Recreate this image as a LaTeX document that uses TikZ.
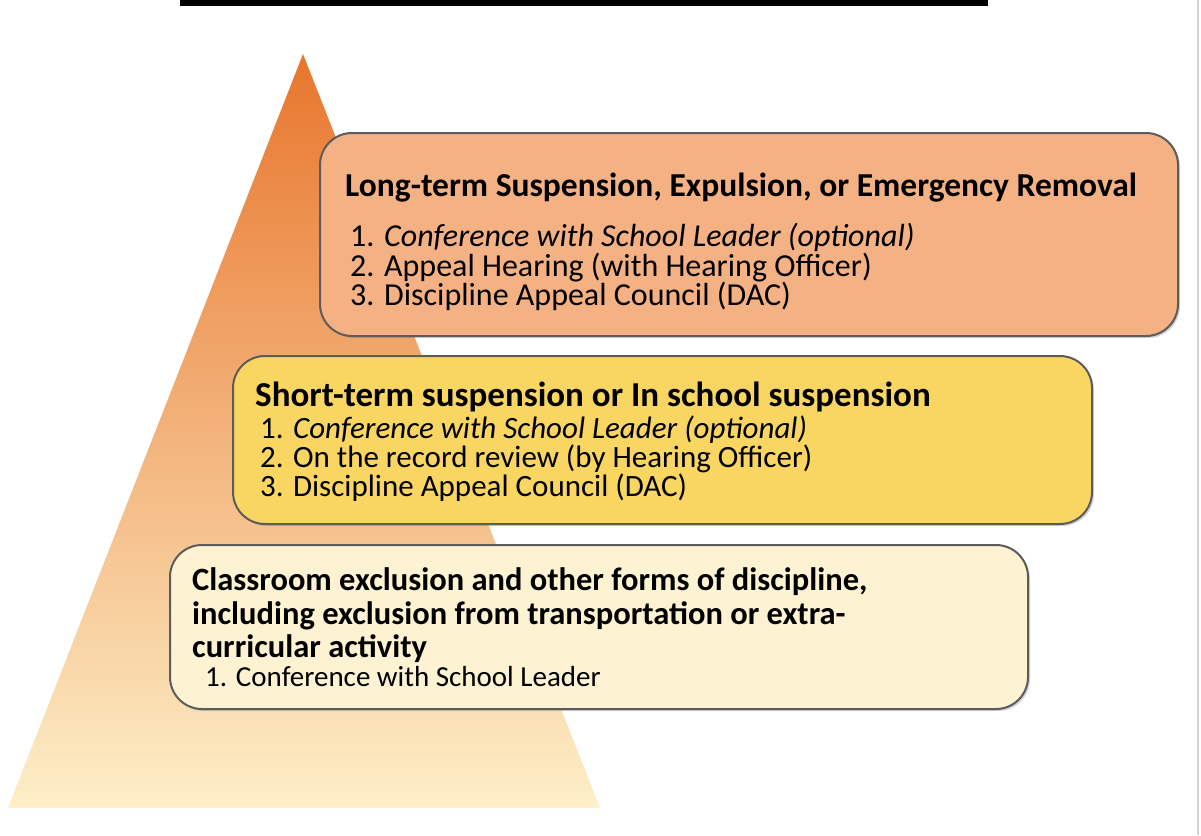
\documentclass[tikz,border=0pt]{standalone}
\usepackage{fontspec}
\setmainfont{Carlito}
\usetikzlibrary{shadows}
\definecolor{boxA}{RGB}{244,177,131}
\definecolor{boxB}{RGB}{249,214,98}
\definecolor{boxC}{RGB}{253,242,209}
\definecolor{edge}{RGB}{92,92,92}
\definecolor{triTop}{RGB}{232,118,45}
\definecolor{triMid}{RGB}{245,188,140}
\definecolor{triBot}{RGB}{253,239,200}
\begin{document}
\begin{tikzpicture}[x=1pt,y=-1pt,
  panel/.style={draw=edge, line width=2pt, rounded corners=32pt, inner sep=0pt,
    drop shadow={opacity=0.35, shadow xshift=2pt, shadow yshift=-2pt}},
  ttlA/.style={anchor=base west, inner sep=0pt, font=\fontsize{33.5}{40}\selectfont\bfseries},
  ttlB/.style={anchor=base west, inner sep=0pt, font=\fontsize{35}{40}\selectfont\bfseries},
  ttlC/.style={anchor=base west, inner sep=0pt, font=\fontsize{32.5}{40}\selectfont\bfseries},
  itmA/.style={anchor=base west, inner sep=0pt, font=\fontsize{32}{36}\selectfont},
  itmB/.style={anchor=base west, inner sep=0pt, font=\fontsize{31}{36}\selectfont},
  itmC/.style={anchor=base west, inner sep=0pt, font=\fontsize{29}{34}\selectfont},
]
\useasboundingbox (0,0) rectangle (1201,835);
\fill[white] (0,0) rectangle (1201,835);
% top bar and right rule
\fill[black] (180,0) rectangle (988,6);
\draw[black!18, line width=2pt] (1198,0) -- (1198,835);
% pyramid
\coordinate (apex) at (303,54);
\coordinate (bl) at (8,808);
\coordinate (br) at (600,808);
\shade[top color=triTop, middle color=triMid, bottom color=triBot] (apex) -- (br) -- (bl) -- cycle;
% boxes
\node[panel, fill=boxA, minimum width=858pt, minimum height=203pt] (b1) at (749,234.5) {};
\node[panel, fill=boxB, minimum width=859pt, minimum height=168pt] (b2) at (662.5,440) {};
\node[panel, fill=boxC, minimum width=858pt, minimum height=164pt] (b3) at (599,627) {};
% box 1 text
\node[ttlA] (t1) at (345,196) {Long-term Suspension, Expulsion, or Emergency Removal};
\node[itmA] (t1a) at (350,246) {1. \textit{Conference with School Leader (optional)}};
\node[itmA] (t1b) at (350,276) {2. Appeal Hearing (with Hearing Officer)};
\node[itmA] (t1c) at (350,305) {3. Discipline Appeal Council (DAC)};
% box 2 text
\node[ttlB] (t2) at (255,406) {Short-term suspension or In school suspension};
\node[itmB] (t2a) at (260,438) {1. \textit{Conference with School Leader (optional)}};
\node[itmB] (t2b) at (260,467) {2. On the record review (by Hearing Officer)};
\node[itmB] (t2c) at (260,496) {3. Discipline Appeal Council (DAC)};
% box 3 text
\node[ttlC] (t3) at (192,590) {Classroom exclusion and other forms of discipline,};
\node[ttlC] (t3b) at (192,624) {including exclusion from transportation or extra-};
\node[ttlC] (t3c) at (192,657) {curricular activity};
\node[itmC] (t3d) at (205,686) {1. Conference with School Leader};
\end{tikzpicture}
\end{document}
